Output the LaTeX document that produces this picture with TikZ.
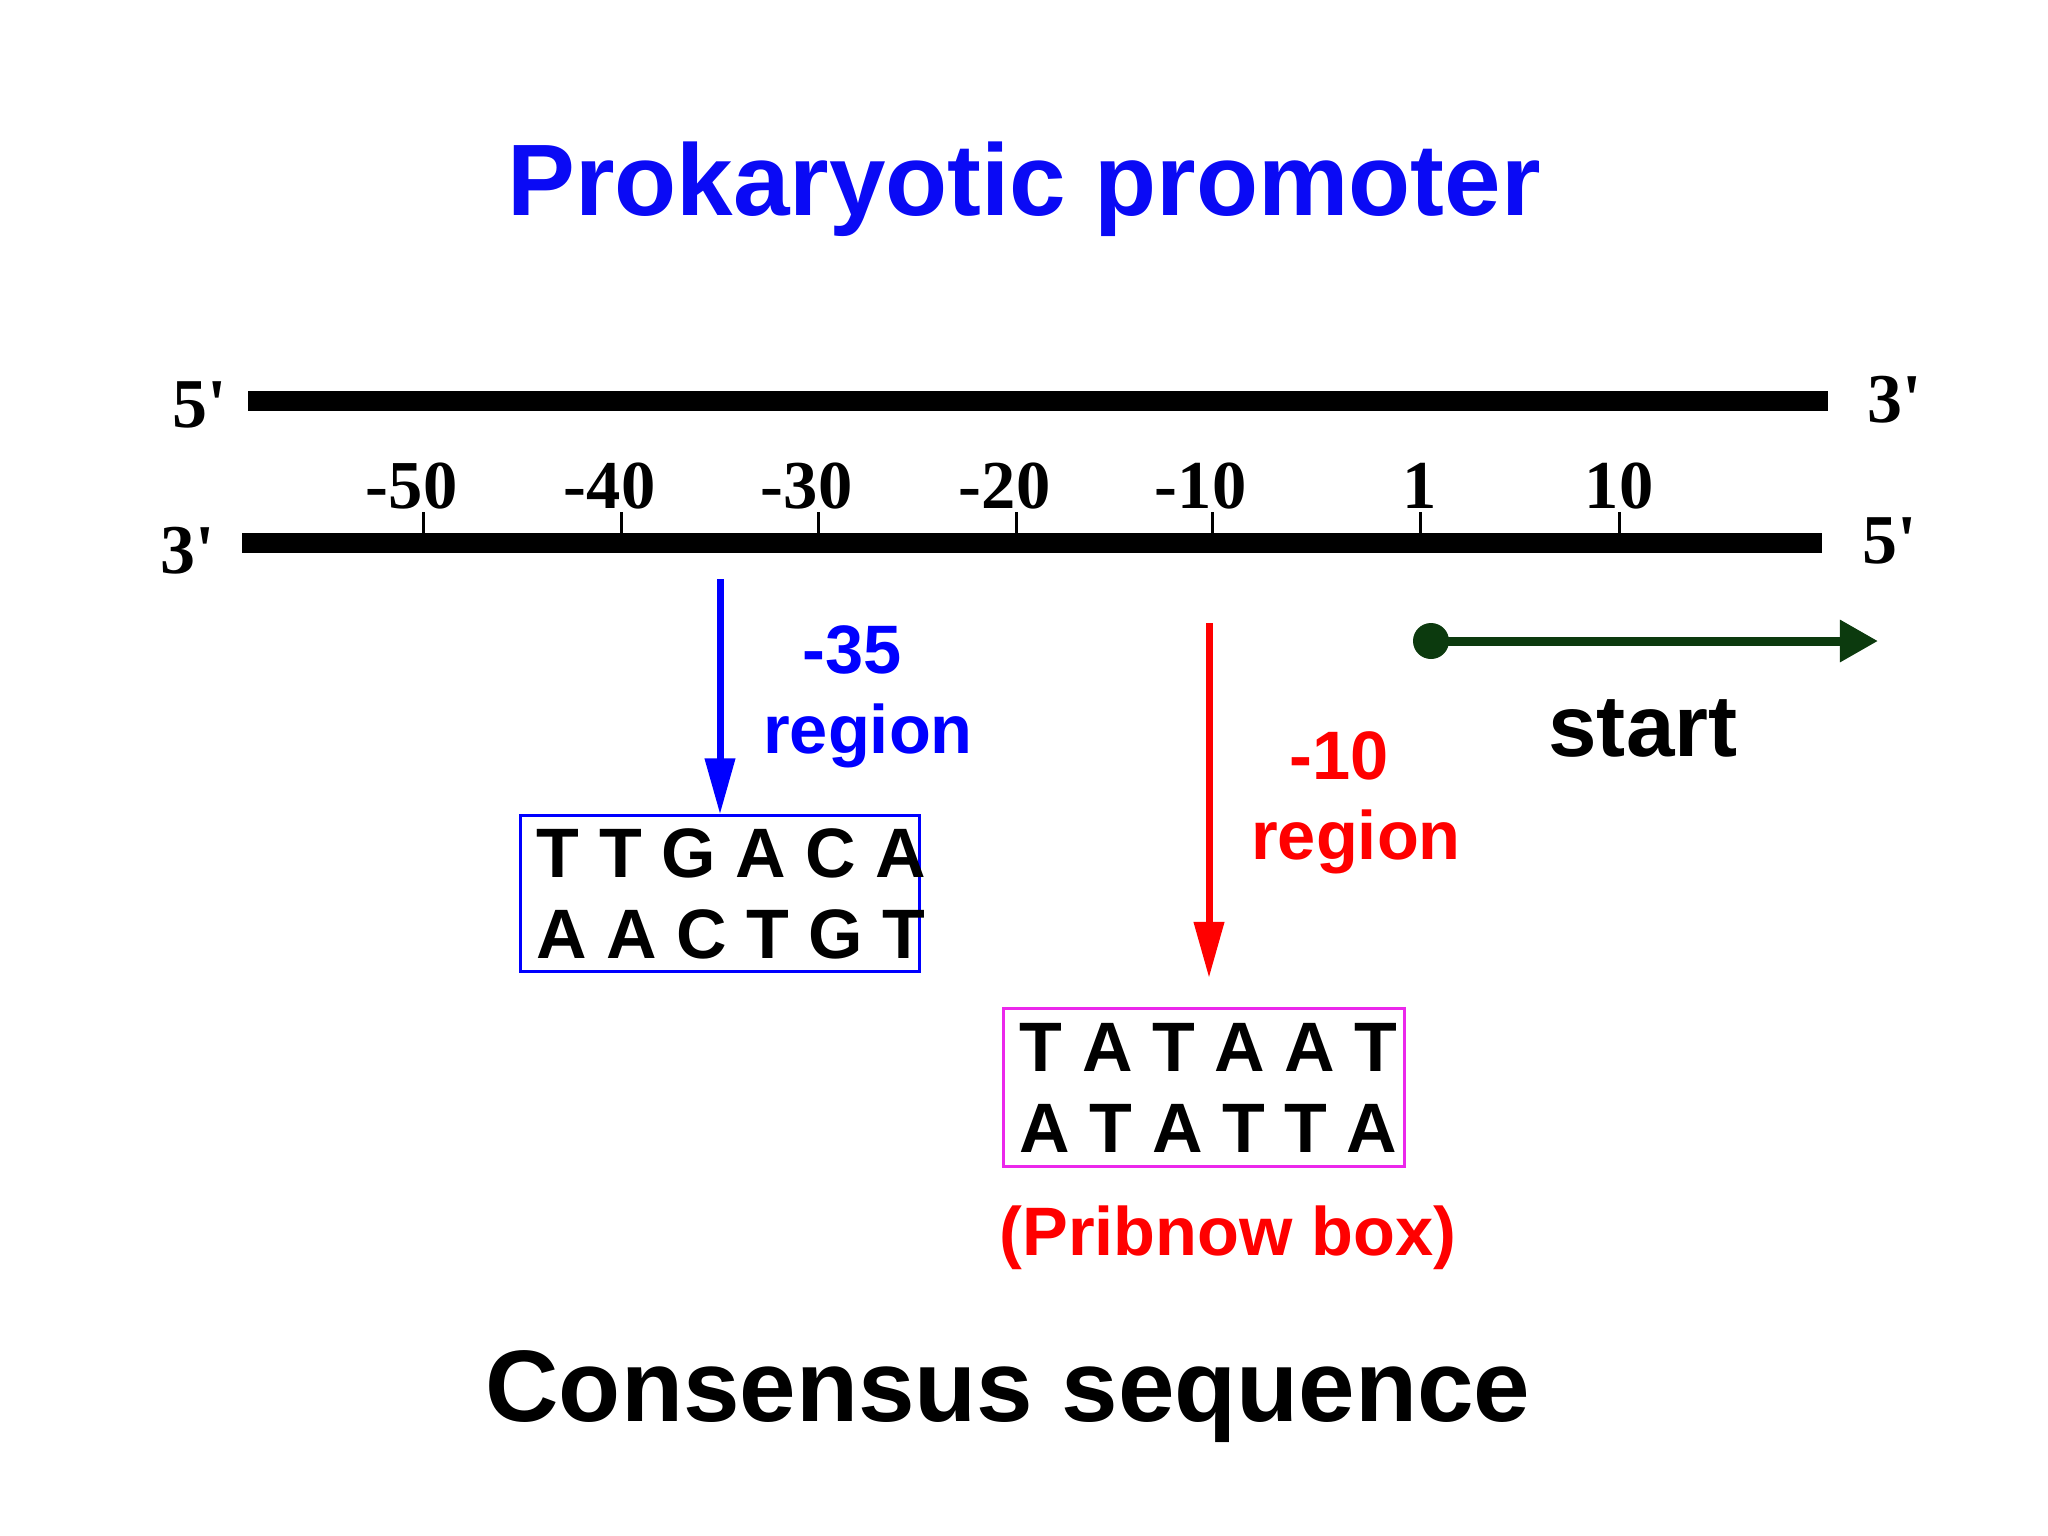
\documentclass[tikz,border=0pt]{standalone}
\usepackage{fontspec}
\setmainfont{Liberation Serif}
\newfontfamily\arialfont{Liberation Sans}
\usetikzlibrary{arrows.meta}

\definecolor{startgreen}{RGB}{12,58,14}
\definecolor{boxpink}{RGB}{235,40,235}
\definecolor{titleblue}{RGB}{10,10,245}

\newcommand{\seqline}[2]{\makebox[#1][l]{#2}}

\tikzset{
  strand/.style={line width=0.2cm},
  endlabel/.style={anchor=base, font=\fontsize{19.9}{20}\selectfont\bfseries},
  poslabel/.style={anchor=base, font=\fontsize{19.5}{20}\selectfont\bfseries},
  sans/.style={anchor=base, font=\arialfont\bfseries\fontsize{19.5}{20}\selectfont},
  seqbox/.style={draw, line width=0.03cm, inner xsep=0.16cm, inner ysep=0pt,
    align=left, font=\arialfont\bfseries\fontsize{19.9}{23}\selectfont},
  regionarrow/.style={line width=0.07cm, -{Triangle[length=0.56cm, width=0.29cm]}}
}

\begin{document}
\begin{tikzpicture}[x=0.01cm, y=-0.01cm]
  \useasboundingbox (0,0) rectangle (2048,1536);
  \node [anchor=base, text=titleblue, font=\arialfont\bfseries\fontsize{28.9}{30}\selectfont]
    (title) at (1024,215) {Prokaryotic promoter};
  % the two strands
  \coordinate (topL) at (248,401);
  \coordinate (topR) at (1828,401);
  \coordinate (botL) at (242,543);
  \coordinate (botR) at (1822,543);
  \draw [strand] (topL) -- (topR);
  \draw [strand] (botL) -- (botR);
  \node [endlabel] (top5) at (200,427) {5\textquotesingle};
  \node [endlabel] (top3) at (1895,422) {3\textquotesingle};
  \node [endlabel] (bot3) at (188,573) {3\textquotesingle};
  \node [endlabel] (bot5) at (1890,563) {5\textquotesingle};
  % ticks and positions
  \foreach \pos/\num [count=\i] in {423/{\llap{-}50}, 621/{\llap{-}40}, 818/{\llap{-}30},
      1016/{\llap{-}20}, 1212/{\llap{-}10}, 1420/1, 1619/10} {
    \draw [line width=0.03cm] (\pos,512) -- (\pos,543);
    \node [poslabel] (tick\i) at (\pos,508) {\num};
  }
  % -35 region
  \node [seqbox, draw=blue, minimum height=1.55cm]
    (box35) at (720,893.5) {\seqline{3.66cm}{T T G A C A}\\\seqline{3.66cm}{A A C T G T}};
  \coordinate (top35) at (720,579);
  \draw [regionarrow, blue] (top35) -- (box35.north);
  \node [sans, text=blue] (lab35) at (852,673) {-35};
  \node [sans, text=blue] (reg35) at (868,753) {region};
  % -10 region
  \coordinate (top10) at (1209,623);
  \coordinate (tip10) at (1209,978);
  \draw [regionarrow, red] (top10) -- (tip10);
  \node [sans, text=red] (lab10) at (1339,779) {-10};
  \node [sans, text=red] (reg10) at (1356,859) {region};
  \node [seqbox, draw=boxpink, minimum height=1.57cm]
    (box10) at (1204,1087.5) {\seqline{3.68cm}{T A T A A T}\\\seqline{3.68cm}{A T A T T A}};
  \node [sans, text=red] (pribnow) at (1228,1255) {(Pribnow box)};
  % start
  \node [circle, fill=startgreen, inner sep=0pt, minimum size=0.36cm] (startdot) at (1431,641) {};
  \coordinate (starttip) at (1878,641);
  \draw [startgreen, line width=0.09cm, -{Triangle[length=0.38cm, width=0.40cm]}]
    (startdot.center) -- (starttip);
  \node [anchor=base, font=\arialfont\bfseries\fontsize{24.8}{26}\selectfont]
    (start) at (1643,756) {start};
  \node [anchor=base, font=\arialfont\bfseries\fontsize{28.9}{30}\selectfont]
    (consensus) at (1008,1421) {Consensus sequence};
\end{tikzpicture}
\end{document}
